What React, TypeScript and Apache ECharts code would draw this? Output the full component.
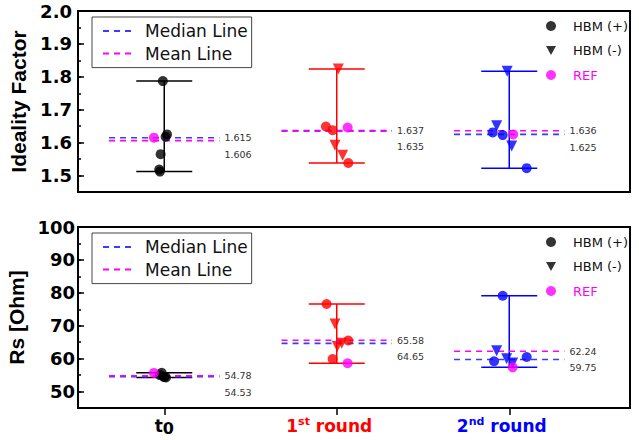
import React, { useEffect, useRef } from 'react';
import * as echarts from 'echarts';

// ---------- shared ----------
const X_TICKS = [1, 2, 3];
const X_LABELS = [
  '{k|t}{ksub|0}',
  '{r|1}{rsup|st}{r| round}{pad| }',
  '{b|2}{bsup|nd}{b| round}{pad| }',
];
const GROUP_COLORS = ['#000000', '#ff0000', '#0000ff'];
const MEDIAN_COLOR = '#3b3bff';
const MEAN_COLOR = '#ff00ff';
const REF_COLOR = '#ff00ff';

// ---------- top panel: Ideality Factor ----------
const IF_TICKS = [1.5, 1.6, 1.7, 1.8, 1.9, 2.0];
const IF_PLUS = [
  [[0.992, 1.787], [1.016, 1.625], [1.008, 1.618], [0.979, 1.565], [0.971, 1.518], [0.975, 1.512]],
  [[1.937, 1.649], [1.976, 1.638], [2.067, 1.538]],
  [[2.904, 1.631], [2.962, 1.623], [3.101, 1.5225]],
];
const IF_MINUS = [
  [],
  [[2.009, 1.824], [1.99, 1.592], [2.034, 1.562]],
  [[2.988, 1.817], [2.927, 1.651], [3.014, 1.59]],
];
const IF_REF = [[0.94, 1.615], [2.063, 1.646], [3.023, 1.625]];
const IF_RANGE = [[1.512, 1.787], [1.538, 1.824], [1.5225, 1.817]];
const IF_MEDIAN = [1.615, 1.637, 1.625];
const IF_MEAN = [1.606, 1.635, 1.636];

// ---------- bottom panel: Rs [Ohm] ----------
const RS_TICKS = [50, 60, 70, 80, 90, 100];
const RS_PLUS = [
  [[0.985, 55.7], [0.975, 55.0], [1.01, 54.3], [0.995, 54.6], [1.0, 54.4]],
  [[1.941, 76.6], [2.067, 65.5], [1.976, 59.9]],
  [[2.962, 79.1], [2.912, 59.2], [3.101, 60.5]],
];
const RS_MINUS = [
  [],
  [[1.99, 70.5], [2.003, 63.7], [2.029, 64.7]],
  [[2.927, 62.4], [2.985, 60.0], [3.02, 58.7]],
];
const RS_REF = [[0.94, 55.65], [2.063, 58.6], [3.02, 57.35]];
const RS_RANGE = [[54.3, 55.7], [58.6, 76.6], [57.35, 79.1]];
const RS_MEDIAN = [54.53, 64.65, 59.75];
const RS_MEAN = [54.78, 65.58, 62.24];

const FONT = 'DejaVu Sans';
const HALF = 0.32;

function panelSeries(p: number, plus: number[][][], minus: number[][][], ref: number[][], range: number[][], median: number[], mean: number[], digits: number) {
  const xa = p;
  const ya = p * 2;
  const series: any[] = [];
  series.push({
    type: 'custom',
    xAxisIndex: xa,
    yAxisIndex: ya,
    silent: true,
    z: 2,
    data: range.map((r, i) => [X_TICKS[i], r[0], r[1]]),
    renderItem: (params: any, api: any) => {
      const x = api.value(0);
      const lo = api.coord([x, api.value(1)]);
      const hi = api.coord([x, api.value(2)]);
      const c = GROUP_COLORS[params.dataIndex];
      const hw = 28;
      const style = { stroke: c, lineWidth: 1.5 };
      return {
        type: 'group',
        children: [
          { type: 'line', shape: { x1: lo[0], y1: lo[1], x2: hi[0], y2: hi[1] }, style },
          { type: 'line', shape: { x1: hi[0] - hw, y1: hi[1], x2: hi[0] + hw, y2: hi[1] }, style },
          { type: 'line', shape: { x1: lo[0] - hw, y1: lo[1], x2: lo[0] + hw, y2: lo[1] }, style },
        ],
      };
    },
  });
  X_TICKS.forEach((x, i) => {
    series.push({
      type: 'line', name: 'Median Line', xAxisIndex: xa, yAxisIndex: ya, z: 3, silent: true,
      symbol: 'none', data: [[x - HALF, median[i]], [x + HALF, median[i]]],
      lineStyle: { color: MEDIAN_COLOR, width: 1.6, type: [6, 5] }, itemStyle: { color: MEDIAN_COLOR },
    });
  });
  X_TICKS.forEach((x, i) => {
    series.push({
      type: 'line', name: 'Mean Line', xAxisIndex: xa, yAxisIndex: ya, z: 3, silent: true,
      symbol: 'none', data: [[x - HALF, mean[i]], [x + HALF, mean[i]]],
      lineStyle: { color: MEAN_COLOR, width: 1.6, type: [6, 5] }, itemStyle: { color: MEAN_COLOR },
    });
  });
  series.push({
    type: 'custom', xAxisIndex: xa, yAxisIndex: ya, silent: true, z: 4,
    data: X_TICKS.map((x, i) => [x, median[i], mean[i]]),
    renderItem: (params: any, api: any) => {
      const x = api.value(0);
      const a = api.value(1);
      const b = api.value(2);
      const up = Math.max(a, b);
      const dn = Math.min(a, b);
      const pt = api.coord([x + HALF, up]);
      const st = { fill: '#333', fontSize: 9.5, fontFamily: FONT, align: 'left', verticalAlign: 'middle' };
      return {
        type: 'group',
        children: [
          { type: 'text', x: pt[0] + 5, y: pt[1], style: { ...st, text: up.toFixed(digits) } },
          { type: 'text', x: pt[0] + 5, y: pt[1] + 16.5, style: { ...st, text: dn.toFixed(digits) } },
        ],
      };
    },
  });
  series.push({
    type: 'scatter', name: 'HBM (+)', xAxisIndex: xa, yAxisIndex: ya, z: 5, symbol: 'circle', symbolSize: 10,
    itemStyle: { color: '#000' },
    data: plus.flatMap((g, gi) => g.map((pt) => ({ value: pt, itemStyle: { color: GROUP_COLORS[gi] } }))),
  });
  series.push({
    type: 'scatter', name: 'HBM (-)', xAxisIndex: xa, yAxisIndex: ya, z: 5, symbol: 'triangle', symbolRotate: 180, symbolSize: 11,
    itemStyle: { color: '#000' },
    data: minus.flatMap((g, gi) => g.map((pt) => ({ value: pt, itemStyle: { color: GROUP_COLORS[gi] } }))),
  });
  series.push({
    type: 'scatter', name: 'REF', xAxisIndex: xa, yAxisIndex: ya, z: 6, symbol: 'circle', symbolSize: 10,
    itemStyle: { color: REF_COLOR },
    data: ref,
  });
  return series;
}

function yAxes(grid: number, min: number, max: number, ticks: number[], minor: number, name: string, digits: number, labelMargin: number) {
  return [
    {
      gridIndex: grid, type: 'value', min, max, position: 'left',
      axisLine: { show: true, onZero: false, lineStyle: { color: '#000', width: 2 } },
      axisTick: { show: true, inside: true, length: 6, customValues: ticks, lineStyle: { color: '#000', width: 1.5 } },
      axisLabel: {
        customValues: ticks, formatter: (v: number) => v.toFixed(digits), margin: labelMargin,
        fontFamily: FONT, fontWeight: 'bold', fontSize: 18, color: '#000',
      },
      splitLine: { show: false },
      name, nameLocation: 'middle', nameGap: 42, nameRotate: 90,
      nameTextStyle: { fontFamily: 'Liberation Sans', fontWeight: 'bold', fontSize: 21, color: '#000' },
    },
    {
      gridIndex: grid, type: 'value', min, max, interval: minor, position: 'left',
      axisLine: { show: false },
      axisTick: { show: true, inside: true, length: 3, lineStyle: { color: '#000', width: 1.5 } },
      axisLabel: { show: false },
      splitLine: { show: false },
    },
  ];
}

function legends(top: number) {
  return [
    {
      left: 92, top, orient: 'vertical', selectedMode: false,
      data: ['Median Line', 'Mean Line'],
      itemWidth: 30, itemHeight: 14, itemGap: 2.6, padding: [4, 4, 4, 10],
      borderColor: '#444', borderWidth: 1,
      itemStyle: { opacity: 0 },
      textStyle: { fontFamily: FONT, fontSize: 17, color: '#111', lineHeight: 20, padding: [0, 0, 0, 7] },
    },
    {
      left: 546, top: top + 1, orient: 'vertical', selectedMode: false,
      data: [
        { name: 'HBM (+)', icon: 'circle' },
        { name: 'HBM (-)', icon: 'path://M0,0L10,0L5,9Z' },
        { name: 'REF', icon: 'circle', textStyle: { color: REF_COLOR } },
      ],
      itemWidth: 10, itemHeight: 10, itemGap: 8.5, padding: 0,
      textStyle: { fontFamily: FONT, fontSize: 13, color: '#111', lineHeight: 16, padding: [0, 0, 0, 12] },
    },
  ];
}

const richBase = { fontFamily: FONT, fontWeight: 'bold' as const };

export default function App() {
  const ref = useRef<HTMLDivElement>(null);
  useEffect(() => {
    if (!ref.current) return;
    const chart = echarts.init(ref.current, null, { renderer: 'svg' });
    const option: any = {
      animation: false,
      backgroundColor: '#fff',
      grid: [
        { left: 78, right: 9, top: 11, height: 181, show: true, borderColor: '#000', borderWidth: 2, backgroundColor: 'transparent', outerBoundsMode: 'none' },
        { left: 78, right: 9, top: 227, height: 181, show: true, borderColor: '#000', borderWidth: 2, backgroundColor: 'transparent', outerBoundsMode: 'none' },
      ],
      legend: [...legends(17), ...legends(233)],
      xAxis: [
        {
          gridIndex: 0, type: 'value', min: 0.5, max: 3.7,
          axisLine: { show: true, onZero: false, lineStyle: { color: '#000', width: 2 } },
          axisTick: { show: false }, axisLabel: { show: false }, splitLine: { show: false },
        },
        {
          gridIndex: 1, type: 'value', min: 0.5, max: 3.7,
          axisLine: { show: true, onZero: false, lineStyle: { color: '#000', width: 2 } },
          axisTick: { show: true, customValues: X_TICKS, length: 7, lineStyle: { color: '#000', width: 1.5 } },
          axisLabel: {
            customValues: X_TICKS, margin: 8,
            formatter: (v: number) => X_LABELS[X_TICKS.indexOf(Math.round(v))] ?? '',
            rich: {
              k: { ...richBase, fontSize: 17, color: '#000', lineHeight: 20 },
              ksub: { ...richBase, fontSize: 16, color: '#000', lineHeight: 9, verticalAlign: 'bottom' },
              r: { ...richBase, fontSize: 17, color: '#ff0000', lineHeight: 20 },
              rsup: { ...richBase, fontSize: 11, color: '#ff0000', lineHeight: 14, verticalAlign: 'top' },
              b: { ...richBase, fontSize: 17, color: '#0000ff', lineHeight: 20 },
              bsup: { ...richBase, fontSize: 11, color: '#0000ff', lineHeight: 14, verticalAlign: 'top' },
              pad: { width: 15, fontSize: 17, lineHeight: 20 },
            },
          },
          splitLine: { show: false },
        },
      ],
      yAxis: [
        ...yAxes(0, 1.45, 2.0, IF_TICKS, 0.05, 'Ideality Factor', 1, 6),
        ...yAxes(1, 45, 100, RS_TICKS, 5, 'Rs [Ohm]', 0, 3),
      ],
      series: [
        ...panelSeries(0, IF_PLUS, IF_MINUS, IF_REF, IF_RANGE, IF_MEDIAN, IF_MEAN, 3),
        ...panelSeries(1, RS_PLUS, RS_MINUS, RS_REF, RS_RANGE, RS_MEDIAN, RS_MEAN, 2),
      ],
    };
    chart.setOption(option);
    return () => chart.dispose();
  }, []);
  return <div ref={ref} style={{ position: 'absolute', left: 0, top: 0, width: 639, height: 440 }} />;
}
